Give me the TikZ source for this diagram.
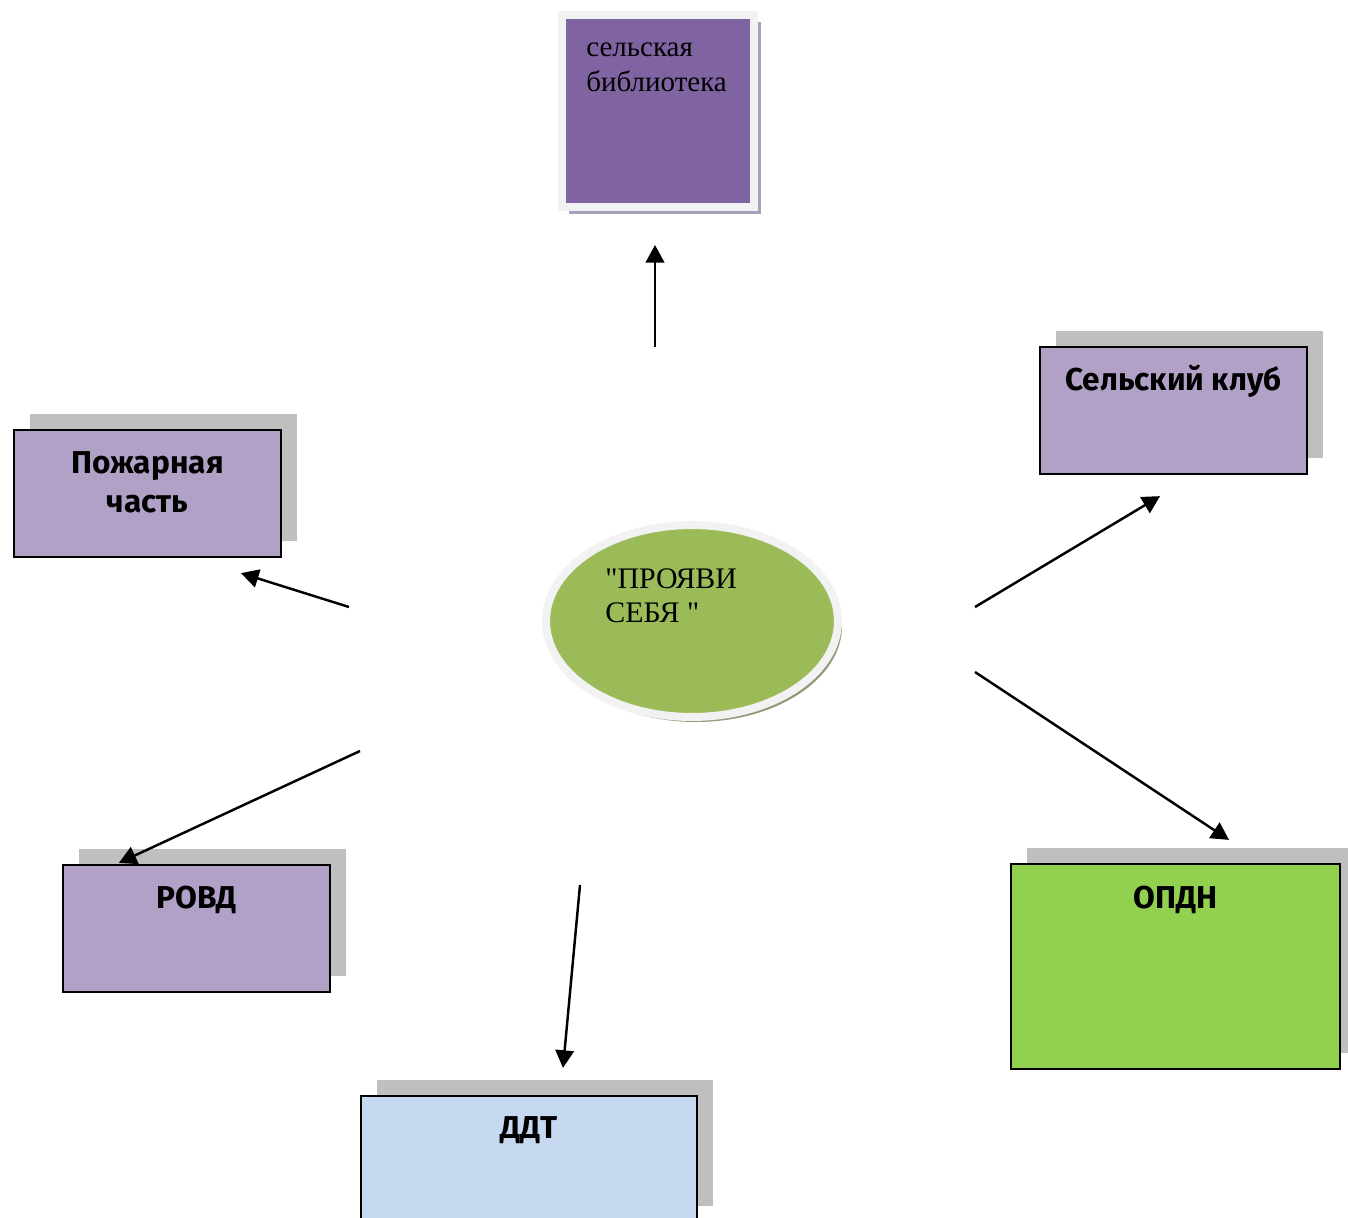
\documentclass[tikz,border=0pt]{standalone}
\usepackage{fontspec}
\setmainfont{Liberation Serif}
\newfontfamily\boxfont{Fira Sans}
\usetikzlibrary{calc,shadows,shapes.geometric,arrows.meta}

\definecolor{libviolet}{HTML}{8064A2}
\definecolor{libshade}{HTML}{A99FB8}
\definecolor{lilac}{HTML}{B2A1C7}
\definecolor{paleblue}{HTML}{C6D9F1}
\definecolor{limegreen}{HTML}{92D050}
\definecolor{olivegreen}{HTML}{9BBB59}
\definecolor{oliveshade}{HTML}{8E9C7A}
\definecolor{framegray}{HTML}{F2F2F2}

% straight double quote, past the tex-text mapping
\newcommand\straightquote{\XeTeXglyph\XeTeXcharglyph"22\relax}

\begin{document}
\begin{tikzpicture}[x=0.02cm,y=-0.02cm,
    org/.style={rectangle,draw=black,line width=1.3pt,fill=lilac,minimum width=5.34cm,minimum height=2.54cm,
      drop shadow={shadow xshift=0.32cm,shadow yshift=0.32cm,fill=black!25,opacity=1}},
    orgname/.style={font=\boxfont\bfseries\fontsize{18}{22.5}\selectfont,align=center,inner sep=0pt},
    link/.style={line width=1.4pt,-{Triangle[length=10pt,width=10.5pt]}}]
  \useasboundingbox (0,0) rectangle (1348,1217);

  \node[rectangle,draw=framegray,line width=0.16cm,fill=libviolet,minimum size=3.84cm,
    drop shadow={shadow xshift=0.14cm,shadow yshift=-0.14cm,fill=libshade,opacity=1}] (lib) at (658,111) {};
  \node[anchor=north west,inner sep=0pt,align=left,font=\fontsize{16.5}{19.8}\selectfont] (libname) at (586,42.5) {сельская\\библиотека};

  \node[ellipse,draw=framegray,line width=0.16cm,fill=olivegreen,minimum width=5.84cm,minimum height=3.84cm,
    drop shadow={shadow xshift=0.08cm,shadow yshift=-0.1cm,fill=oliveshade,opacity=1}] (idea) at (692,621) {};
  \node[anchor=north west,inner sep=0pt,align=left,font=\fontsize{17}{19.3}\selectfont] (ideaname) at (605,568.5) {\straightquote ПРОЯВИ\\СЕБЯ \straightquote};

  \node[org] (fire) at (147.5,493.5) {};
  \node[orgname,anchor=north] at ($(fire.north)+(0,22)$) {Пожарная\\часть};

  \node[org] (club) at (1173.5,410.5) {};
  \node[orgname,anchor=base] at ($(club.north)+(0,45)$) {Сельский клуб};

  \node[org] (police) at (196.5,928.5) {};
  \node[orgname,anchor=base] at ($(police.north)+(0,45)$) {РОВД};

  \node[org,fill=limegreen,minimum width=6.58cm,minimum height=4.1cm] (opdn) at (1175.5,966.5) {};
  \node[orgname,anchor=base] at ($(opdn.north)+(0,46)$) {ОПДН};

  \node[org,fill=paleblue,minimum width=6.72cm,minimum height=2.52cm] (ddt) at (529,1159) {};
  \node[orgname,anchor=base] at ($(ddt.north)+(0,44)$) {ДДТ};

  % free ends of the arrows
  \coordinate (s1) at (655,347);
  \coordinate (s2) at (349,607);
  \coordinate (s3) at (975,607);
  \coordinate (s4) at (360,751);
  \coordinate (s5) at (975,672);
  \coordinate (s6) at (580,885);

  \draw[link] (s1) -- ($(lib.south)+(-3,34)$);
  \draw[link] (s2) -- ($(fire.south)+(93.5,15)$);
  \draw[link] (s3) -- ($(club.south)+(-13.5,21)$);
  \draw[link] (s4) -- ($(police.north west)+(57,-1)$);
  \draw[link] (s5) -- ($(opdn.north)+(53.5,-23)$);
  \draw[link] (s6) -- ($(ddt.north)+(34,-27)$);
\end{tikzpicture}
\end{document}
